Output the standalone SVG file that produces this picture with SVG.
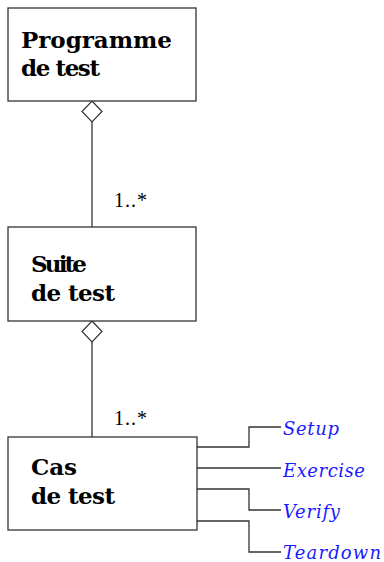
<svg xmlns="http://www.w3.org/2000/svg" width="384" height="562" viewBox="0 0 384 562">
<style>
.box{fill:#fff;stroke:#333;stroke-width:1.3}
.name{font-family:"DejaVu Serif","Liberation Serif",serif;font-weight:bold;font-size:23px;fill:#000}
.mult{font-family:"Liberation Serif",serif;font-size:20px;fill:#000}
.op{font-family:"DejaVu Serif","Liberation Serif",serif;font-style:italic;font-size:18px;fill:#1a1aff}
.ln{fill:none;stroke:#333;stroke-width:1.3}
.dia{fill:#fff;stroke:#333;stroke-width:1.2}
</style>
<rect width="384" height="562" fill="#fff"/>
<g id="connectors">
<line class="ln" x1="92" y1="122" x2="92" y2="227"/>
<polygon class="dia" points="92,101 102,111.5 92,122 82,111.5"/>
<text class="mult" x="114" y="207" textLength="33">1..*</text>
<line class="ln" x1="92" y1="342" x2="92" y2="437"/>
<polygon class="dia" points="92,321 102,331.5 92,342 82,331.5"/>
<text class="mult" x="114" y="425" textLength="33">1..*</text>
<polyline class="ln" points="197,447 249,447 249,427 281,427"/>
<polyline class="ln" points="197,468 281,468"/>
<polyline class="ln" points="197,489 249,489 249,510 281,510"/>
<polyline class="ln" points="197,521 249,521 249,552 281,552"/>
</g>
<g id="programme">
<rect class="box" x="8" y="8" width="188" height="93"/>
<text class="name" x="21" y="48" textLength="151">Programme</text>
<text class="name" x="21" y="76" textLength="79">de test</text>
</g>
<g id="suite">
<rect class="box" x="8" y="227" width="188" height="94"/>
<text class="name" x="31" y="272" textLength="56">Suite</text>
<text class="name" x="31" y="301" textLength="84">de test</text>
</g>
<g id="cas">
<rect class="box" x="8" y="437" width="189" height="93"/>
<text class="name" x="31" y="475" textLength="46">Cas</text>
<text class="name" x="31" y="504" textLength="84">de test</text>
</g>
<g id="ops">
<text class="op" x="283" y="435" textLength="56">Setup</text>
<text class="op" x="283" y="477" textLength="82">Exercise</text>
<text class="op" x="283" y="518" textLength="57">Verify</text>
<text class="op" x="283" y="559" textLength="98">Teardown</text>
</g>
</svg>
